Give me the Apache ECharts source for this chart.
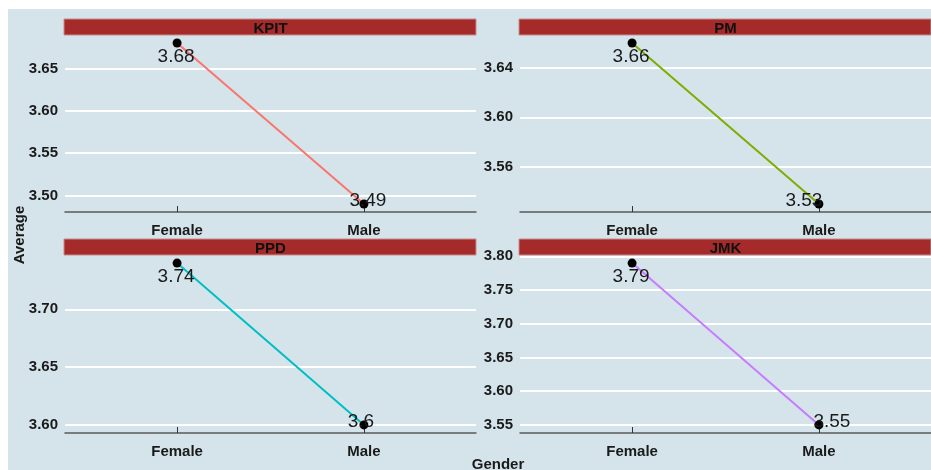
<!DOCTYPE html>
<html>
<head>
<meta charset="utf-8">
<script src="https://cdn.jsdelivr.net/npm/echarts@6/dist/echarts.min.js"></script>
<style>
html,body{margin:0;padding:0;background:#fff;}
#c{width:931px;height:470px;}
</style>
</head>
<body>
<div id="c"></div>
<script>
// ---- data ----
var genders = ['Female', 'Male'];
var panels = ['KPIT', 'PM', 'PPD', 'JMK'];
var kpitValues = [3.68, 3.49];
var pmValues = [3.66, 3.53];
var ppdValues = [3.74, 3.60];
var jmkValues = [3.79, 3.55];
var tickSteps = [0.05, 0.04, 0.05, 0.05];
var labelTexts = [['3.68', '3.49'], ['3.66', '3.53'], ['3.74', '3.6'], ['3.79', '3.55']];
var lineColors = ['#F8766D', '#7CAE00', '#00BFC4', '#C77CFF'];

var seriesValues = [kpitValues, pmValues, ppdValues, jmkValues];

// ---- layout (styles) ----
var grids = [
  {left: 65, top: 35, width: 411, height: 177},
  {left: 520, top: 35, width: 411, height: 177},
  {left: 65, top: 255, width: 411, height: 178},
  {left: 520, top: 255, width: 411, height: 178}
];
var maleOffsets = [[4, -3], [-15, -3], [-3, -3], [13, -3]];
var femaleOffset = [-1, 14];
var FONT = 'Liberation Sans, Arial, sans-serif';

var chart = echarts.init(document.getElementById('c'), null, {renderer: 'canvas'});

var xAxes = [], yAxes = [], series = [], graphics = [];

graphics.push({type: 'rect', shape: {x: 8, y: 9, width: 931, height: 470}, style: {fill: '#d5e4eb'}, z: -10, silent: true});

for (var i = 0; i < 4; i++) {
  var vals = seriesValues[i];
  var lo = Math.min.apply(null, vals), hi = Math.max.apply(null, vals);
  var span = hi - lo;
  xAxes.push({
    type: 'value', gridIndex: i, min: 0.4, max: 2.6,
    axisLine: {show: true, onZero: false, lineStyle: {color: '#5a5a5a', width: 1.5}},
    axisTick: {show: true, inside: true, length: 6, customValues: [1, 2], lineStyle: {color: '#333', width: 1}},
    axisLabel: {show: true, customValues: [1, 2], margin: 11, formatter: function (v) { return genders[Math.round(v) - 1]; },
      fontFamily: FONT, fontWeight: 'bold', fontSize: 15, color: '#1a1a1a'},
    splitLine: {show: false}
  });
  yAxes.push({
    type: 'value', gridIndex: i,
    min: lo - 0.05 * span, max: hi + 0.05 * span,
    minInterval: tickSteps[i], maxInterval: tickSteps[i],
    axisLine: {show: false}, axisTick: {show: false},
    axisLabel: {show: true, margin: 7, showMinLabel: false, showMaxLabel: false,
      formatter: function (v) { return v.toFixed(2); },
      fontFamily: FONT, fontWeight: 'bold', fontSize: 15, color: '#1a1a1a'},
    splitLine: {show: true, showMinLine: false, showMaxLine: false, lineStyle: {color: '#ffffff', width: 2}}
  });
  var data = vals.map(function (v, j) {
    return {
      value: [j + 1, v],
      label: {
        show: true, position: 'inside',
        offset: j === 0 ? femaleOffset : maleOffsets[i],
        formatter: labelTexts[i][j],
        fontFamily: FONT, fontSize: 19, color: '#1a1a1a'
      }
    };
  });
  series.push({
    type: 'line', xAxisIndex: i, yAxisIndex: i, data: data,
    symbol: 'circle', symbolSize: 9,
    itemStyle: {color: '#000'},
    lineStyle: {color: lineColors[i], width: 2},
    z: 3, animation: false
  });
  var g = grids[i];
  graphics.push({type: 'rect', shape: {x: g.left - 1, y: g.top - 16, width: g.width + 1, height: 16},
    style: {fill: '#A52A2A', stroke: '#c98a8a', lineWidth: 1}, z: 50, silent: true});
  graphics.push({type: 'text', x: g.left + g.width / 2, y: g.top - 6.5,
    style: {text: panels[i], fill: '#111', font: 'bold 15px ' + FONT, align: 'center', verticalAlign: 'middle'},
    z: 51, silent: true});
}

graphics.push({type: 'text', x: 20, y: 235, rotation: Math.PI / 2,
  style: {text: 'Average', fill: '#1a1a1a', font: 'bold 15px ' + FONT, align: 'center', verticalAlign: 'middle'}, z: 51});
graphics.push({type: 'text', x: 498, y: 465,
  style: {text: 'Gender', fill: '#1a1a1a', font: 'bold 15px ' + FONT, align: 'center', verticalAlign: 'middle'}, z: 51});

chart.setOption({
  animation: false,
  backgroundColor: '#ffffff',
  grid: grids,
  xAxis: xAxes,
  yAxis: yAxes,
  series: series,
  graphic: graphics
});
</script>
</body>
</html>
